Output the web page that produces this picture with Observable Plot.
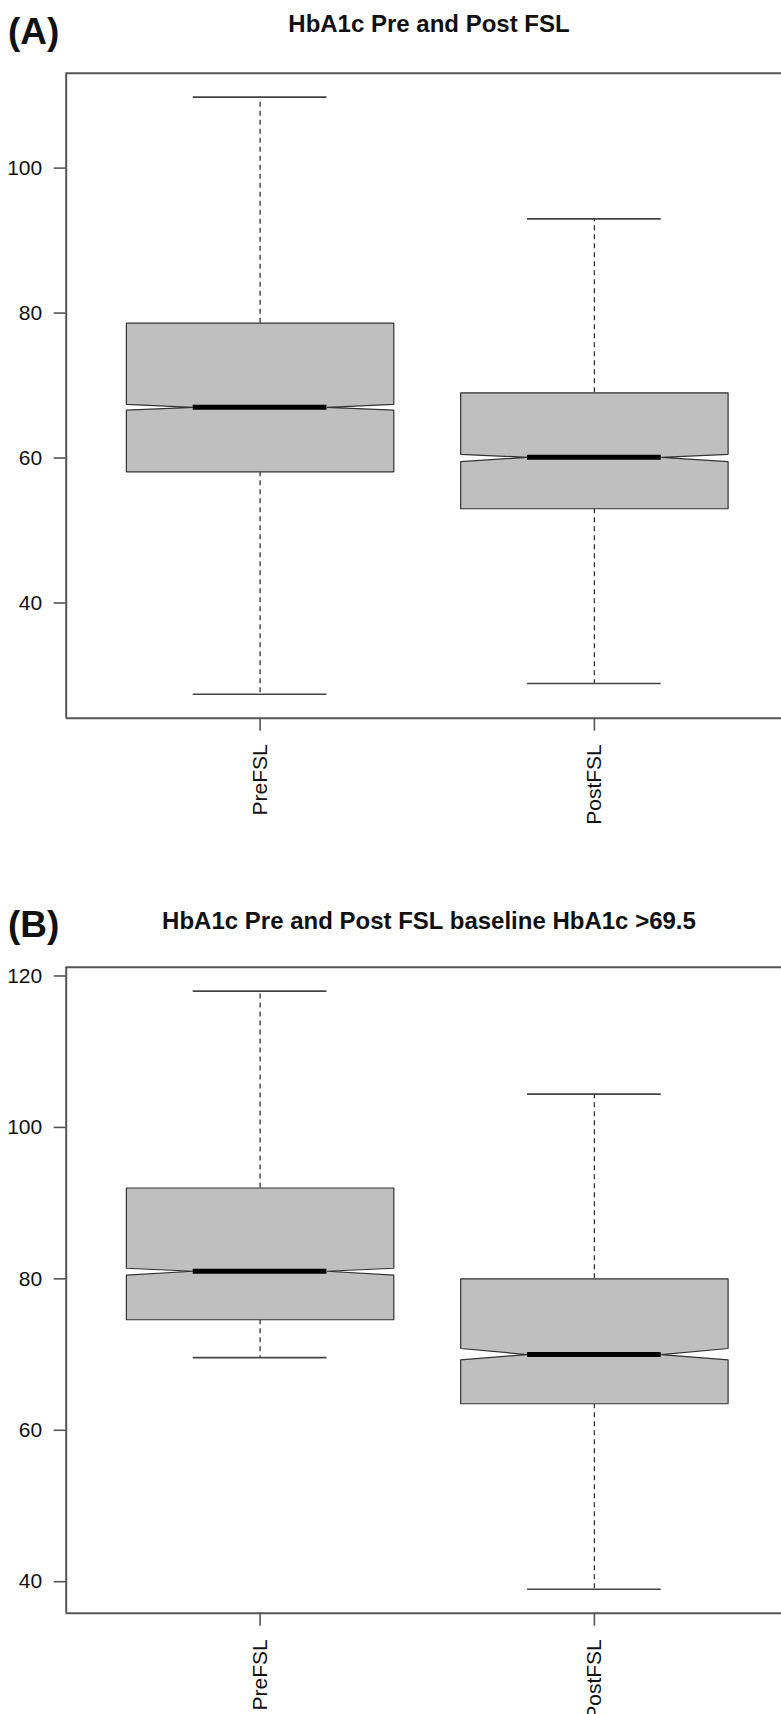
<!DOCTYPE html>
<html><head><meta charset="utf-8">
<script src="https://cdn.jsdelivr.net/npm/d3@7"></script>
<script src="https://cdn.jsdelivr.net/npm/@observablehq/plot@0.6"></script>
<style>
body{margin:0;background:#fff;}
#page{position:relative;width:781px;height:1714px;overflow:hidden;font-family:"Liberation Sans",Arial,sans-serif;color:#111;background:#fff;}
.lab{position:absolute;font-weight:bold;line-height:1;white-space:nowrap;color:#111;}
.title{text-align:center;width:700px;}
.wrap{position:absolute;left:0;}
</style></head><body>
<div id="page"></div>
<script>
// ---------- data ----------
const categories = ["PreFSL", "PostFSL"];

// Panel A: HbA1c Pre and Post FSL
const aLabel = "(A)";
const aTitle = "HbA1c Pre and Post FSL";
const aLow = [27.4, 28.9];
const aQ1 = [58.1, 53.0];
const aMedian = [67.0, 60.1];
const aQ3 = [78.6, 69.0];
const aHigh = [109.8, 93.0];
const aNotchLow = [66.6, 59.5];
const aNotchHigh = [67.4, 60.5];
const aTicks = [40, 60, 80, 100];

// Panel B: baseline HbA1c > 69.5
const bLabel = "(B)";
const bTitle = "HbA1c Pre and Post FSL baseline HbA1c >69.5";
const bLow = [69.6, 39.0];
const bQ1 = [74.6, 63.5];
const bMedian = [81.0, 70.0];
const bQ3 = [92.0, 80.0];
const bHigh = [118.0, 104.4];
const bNotchLow = [80.5, 69.3];
const bNotchHigh = [81.4, 70.8];
const bTicks = [40, 60, 80, 100, 120];

// ---------- drawing ----------
const page = document.getElementById("page");
const FONT = '"Liberation Sans", Arial, sans-serif';
const BOXW = 0.8, HALF = BOXW / 2, INNER = BOXW / 4;

function addText(txt, cls, left, top, size) {
  const d = document.createElement("div");
  d.className = "lab " + cls;
  d.textContent = txt;
  d.style.left = left + "px";
  d.style.top = top + "px";
  d.style.fontSize = size + "px";
  page.appendChild(d);
}

function panel({low, q1, median, q3, high, nlo, nhi, ticks, top, height, frameTop, frameBottom}) {
  const rows = categories.map((c, i) => ({
    cat: c, c: i + 1, low: low[i], q1: q1[i], median: median[i], q3: q3[i], high: high[i], nlo: nlo[i], nhi: nhi[i]
  }));
  const verts = rows.flatMap(r => [
    [r.c - HALF, r.q1], [r.c + HALF, r.q1], [r.c + HALF, r.nlo], [r.c + INNER, r.median],
    [r.c + HALF, r.nhi], [r.c + HALF, r.q3], [r.c - HALF, r.q3], [r.c - HALF, r.nhi],
    [r.c - INNER, r.median], [r.c - HALF, r.nlo], [r.c - HALF, r.q1]
  ].map(([x, y]) => ({cat: r.cat, x, y})));
  const all = rows.flatMap(r => [r.low, r.high]);
  const [mn, mx] = d3.extent(all);
  const ext = (mx - mn) * 0.04;
  const yDomain = [mn - ext, mx + ext];
  const xDomain = [1 - 0.58, 2 + 0.58];
  const mLeft = 65.7;
  const pxPerUnit = 334.3;
  const mTop = frameTop - top;
  const mBottom = top + height - frameBottom;
  const svg = Plot.plot({
    width: 781, height,
    marginLeft: mLeft, marginRight: 0, marginTop: mTop, marginBottom: mBottom,
    x: {type: "linear", domain: xDomain, range: [mLeft, mLeft + (xDomain[1] - xDomain[0]) * pxPerUnit]},
    y: {type: "linear", domain: yDomain},
    style: {fontFamily: FONT, color: "#111", background: "transparent", overflow: "visible"},
    marks: [
      // whiskers
      Plot.ruleX(rows, {x: "c", y1: "q3", y2: "high", stroke: "#333", strokeWidth: 1.3, strokeDasharray: "5,4"}),
      Plot.ruleX(rows, {x: "c", y1: "q1", y2: "low", stroke: "#333", strokeWidth: 1.3, strokeDasharray: "5,4"}),
      // caps
      Plot.ruleY(rows, {y: "high", x1: d => d.c - INNER, x2: d => d.c + INNER, stroke: "#444", strokeWidth: 1.6}),
      Plot.ruleY(rows, {y: "low", x1: d => d.c - INNER, x2: d => d.c + INNER, stroke: "#444", strokeWidth: 1.6}),
      // notched boxes
      Plot.line(verts, {x: "x", y: "y", z: "cat", fill: "#bfbfbf", stroke: "#333", strokeWidth: 1.2, strokeLinejoin: "miter", curve: "linear"}),
      // median
      Plot.ruleY(rows, {y: "median", x1: d => d.c - INNER, x2: d => d.c + INNER, stroke: "#000", strokeWidth: 5}),
      // frame (right edge lies beyond the page)
      Plot.ruleY(yDomain, {stroke: "#555", strokeWidth: 2}),
      Plot.ruleX([xDomain[0]], {stroke: "#555", strokeWidth: 2}),
      // axes
      Plot.axisY(ticks, {anchor: "left", tickSize: 12, tickPadding: 12, fontSize: 21, stroke: "#555", strokeWidth: 1.6, tickFormat: d => String(d), fill: "#111"}),
      Plot.axisX([1, 2], {anchor: "bottom", tickSize: 13, tickPadding: 13, tickRotate: -90, fontSize: 21, stroke: "#555", strokeWidth: 1.6, tickFormat: d => categories[d - 1], fill: "#111"})
    ]
  });
  const w = document.createElement("div");
  w.className = "wrap";
  w.style.top = top + "px";
  w.appendChild(svg);
  page.appendChild(w);
}

// Panel A
addText(aLabel, "", 8, 13, 37);
addText(aTitle, "title", 429 - 350, 12, 24);
panel({low: aLow, q1: aQ1, median: aMedian, q3: aQ3, high: aHigh, nlo: aNotchLow, nhi: aNotchHigh, ticks: aTicks,
  top: 60, height: 780, frameTop: 72.7, frameBottom: 717.7});

// Panel B
addText(bLabel, "", 8, 906, 37);
addText(bTitle, "title", 429 - 350, 909, 24);
panel({low: bLow, q1: bQ1, median: bMedian, q3: bQ3, high: bHigh, nlo: bNotchLow, nhi: bNotchHigh, ticks: bTicks,
  top: 950, height: 764, frameTop: 966.7, frameBottom: 1612.7});
</script>
</body></html>
